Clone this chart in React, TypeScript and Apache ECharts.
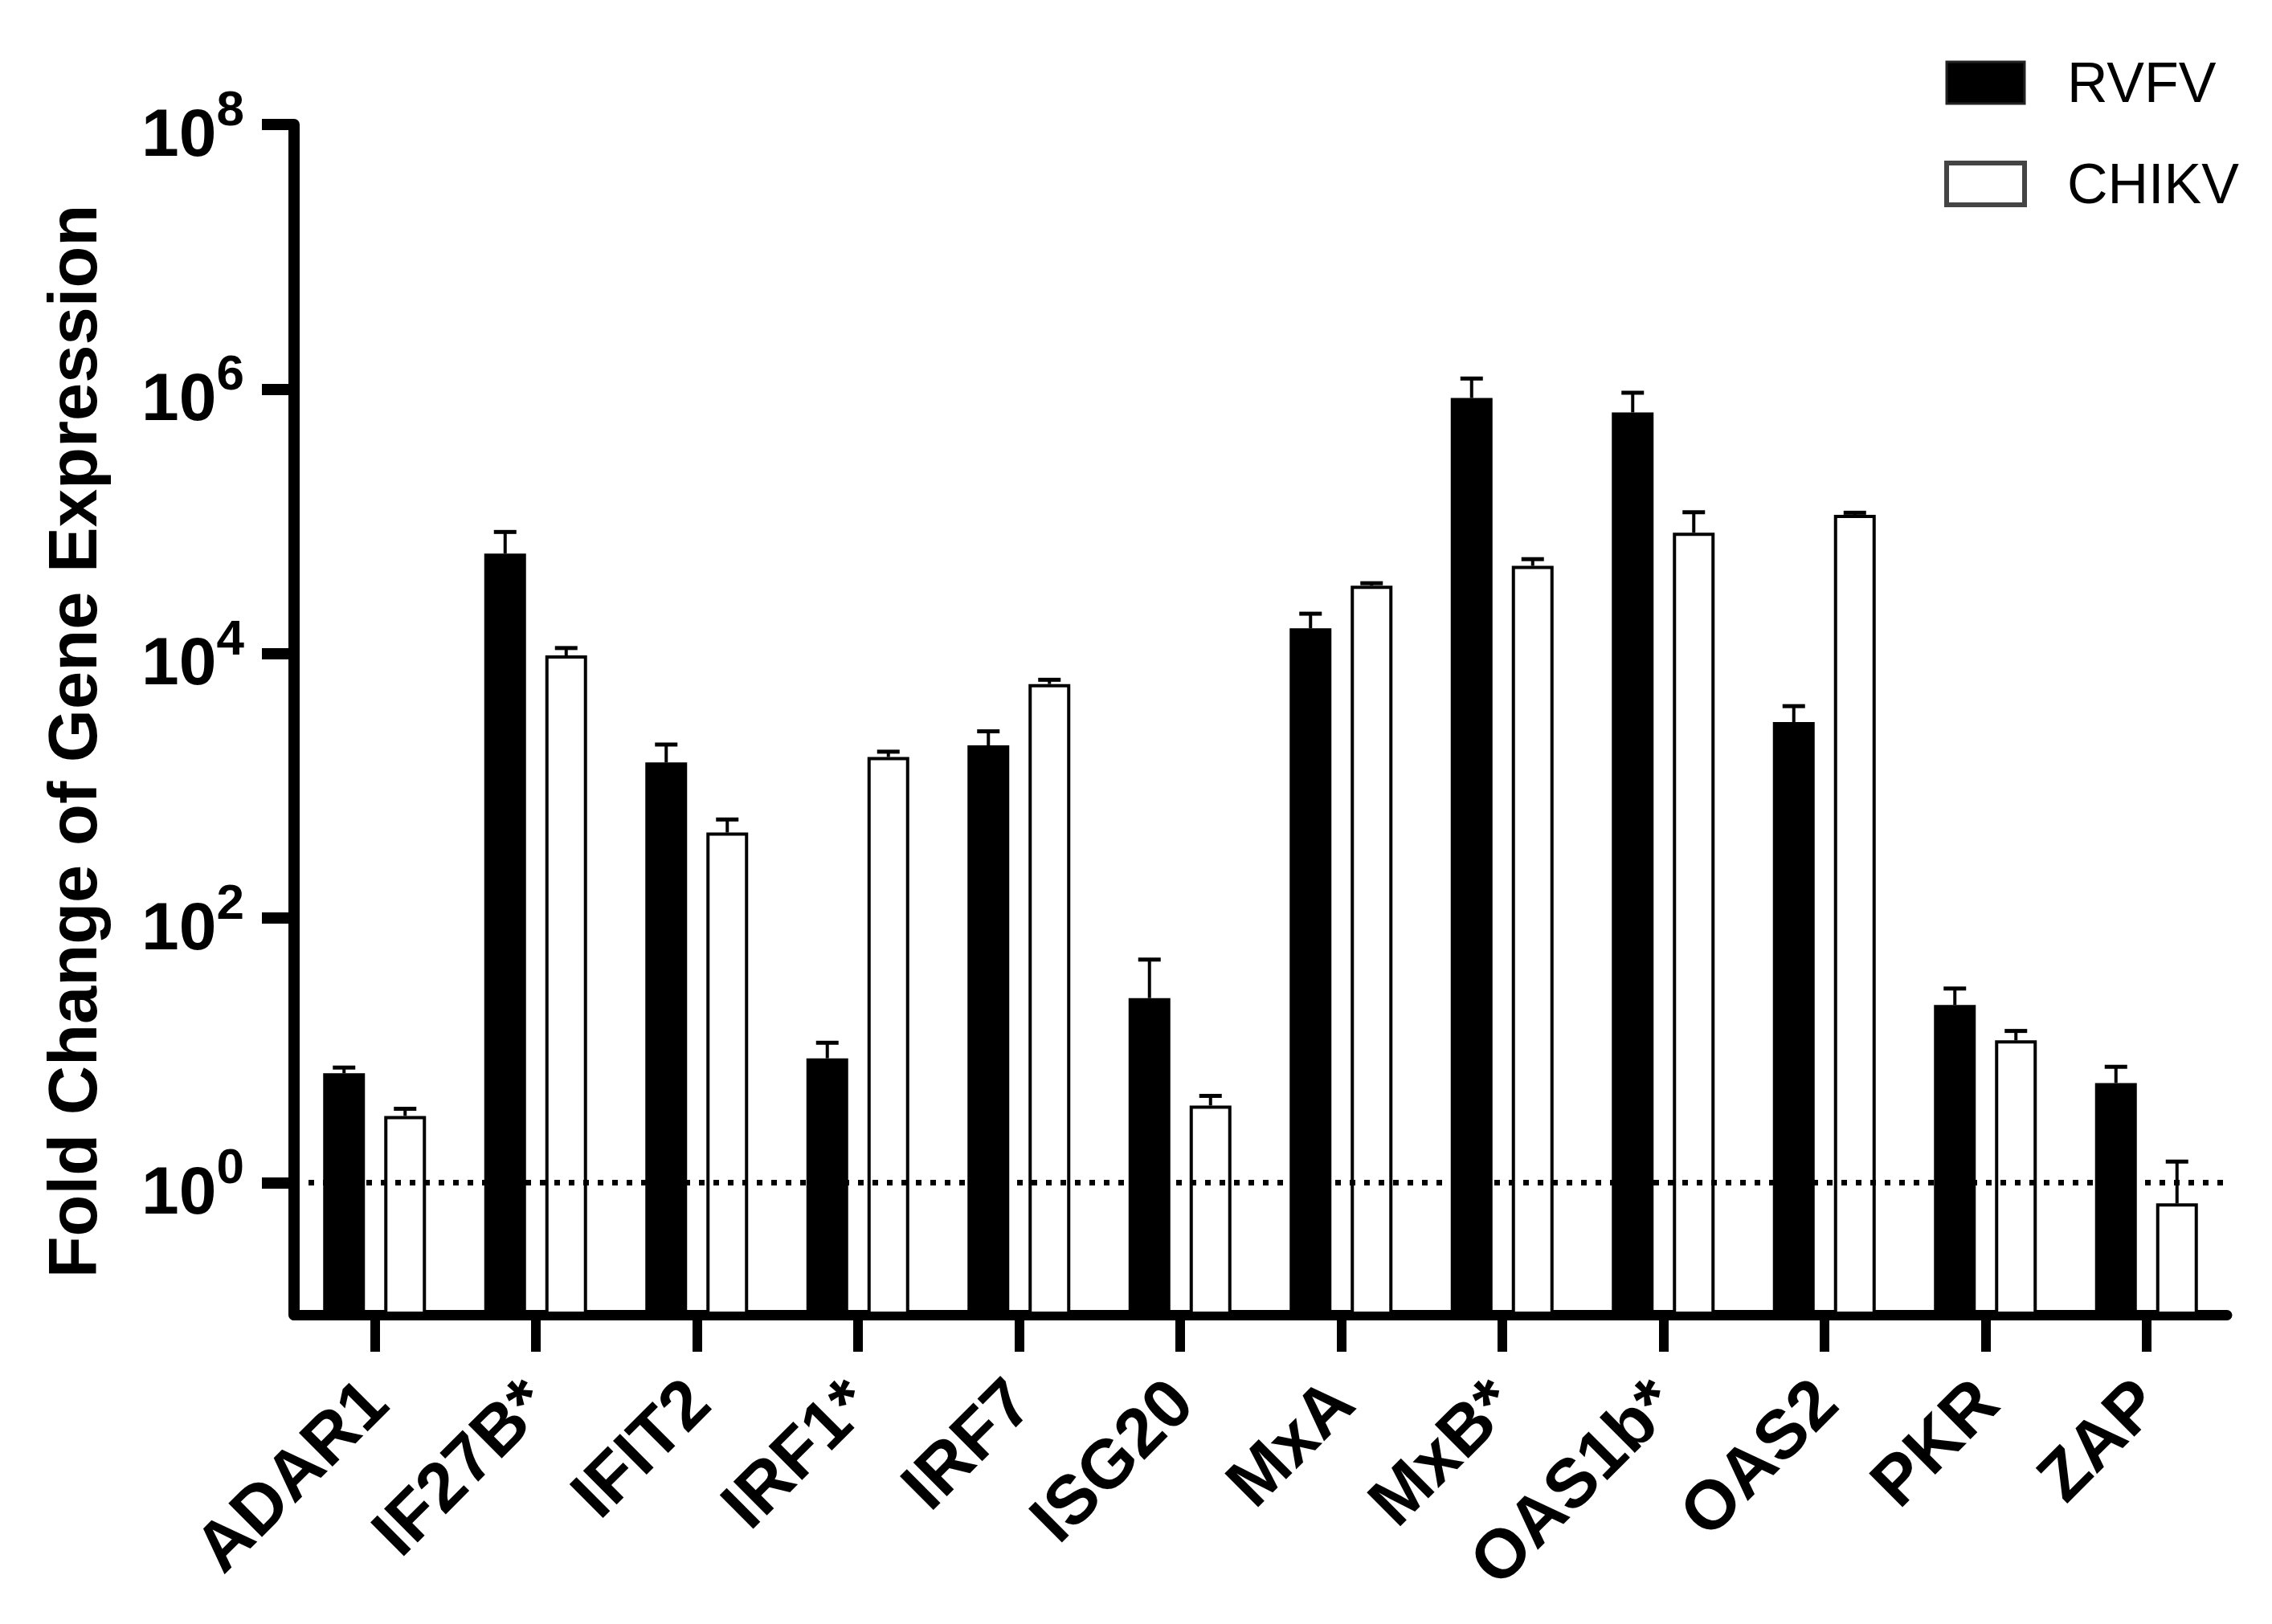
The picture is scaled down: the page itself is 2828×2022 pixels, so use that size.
import React, { useEffect, useRef } from 'react';
import * as echarts from 'echarts';

// ---- Data ----
const categories = ['ADAR1', 'IF27B*', 'IFIT2', 'IRF1*', 'IRF7', 'ISG20', 'MxA', 'MxB*', 'OAS1b*', 'OAS2', 'PKR', 'ZAP'];
const seriesNames = ['RVFV', 'CHIKV'];
const rvfvMean = [6.7, 57000, 1500, 8.7, 2020, 24.8, 15500, 855000, 665000, 3030, 22, 5.65];
const rvfvUpper = [7.4, 83000, 2050, 11.4, 2580, 48.5, 20000, 1200000, 937000, 4000, 29.3, 7.5];
const chikvMean = [3.19, 9670, 443, 1650, 5880, 3.82, 32600, 46000, 82000, 112000, 11.9, 0.695];
const chikvUpper = [3.61, 11000, 556, 1810, 6330, 4.52, 34000, 51700, 117000, 116000, 14, 1.44];
const yTickExponents = [0, 2, 4, 6, 8];
const axisMinExponent = -1;
const axisMaxExponent = 8;
const referenceLineValue = 1;
const yAxisTitle = 'Fold Change of Gene Expression';

// ---- helpers ----
// value axis measured in decades above the axis floor (10^-1)
const toAxis = (v: number) => Math.log10(v) - axisMinExponent;

const FONT = '"Liberation Sans", Arial, Helvetica, sans-serif';
const BAR_W = 52;
const BAR_GAP = 24;

function makeErrorRenderer(sign: number) {
  return (params: any, api: any) => {
    const i = api.value(0);
    const top = api.coord([i, api.value(1)]);
    const base = api.coord([i, api.value(2)]);
    const x = top[0] + sign * (BAR_W + BAR_GAP) / 2;
    return {
      type: 'group',
      children: [
        {
          type: 'line',
          shape: { x1: x, y1: base[1], x2: x, y2: top[1] },
          style: { stroke: '#000', lineWidth: 4 },
        },
        {
          type: 'line',
          shape: { x1: x - 14, y1: top[1], x2: x + 14, y2: top[1] },
          style: { stroke: '#000', lineWidth: 5 },
        },
      ],
    };
  };
}

export default function App() {
  const ref = useRef<HTMLDivElement>(null);

  useEffect(() => {
    if (!ref.current) return;
    const chart = echarts.init(ref.current, null, { renderer: 'svg' });
    const tickPositions = yTickExponents.map((e) => e - axisMinExponent);

    const option: any = {
      animation: false,
      backgroundColor: '#fff',
      grid: {
        left: 366,
        top: 155,
        width: 2406,
        height: 1482,
        outerBoundsMode: 'none',
      },
      legend: {
        orient: 'vertical',
        left: 2420,
        top: 68,
        padding: 0,
        itemWidth: 97,
        itemHeight: 52,
        itemGap: 56,
        icon: 'rect',
        selectedMode: false,
        textStyle: { fontSize: 70, fontFamily: FONT, color: '#000', padding: [0, 0, 0, 48] },
        data: [
          { name: 'RVFV', itemStyle: { color: '#000', borderColor: '#222', borderWidth: 3 } },
          { name: 'CHIKV', itemStyle: { color: '#fff', borderColor: '#444', borderWidth: 6 } },
        ],
      },
      xAxis: {
        type: 'category',
        data: categories,
        axisLine: { show: true, lineStyle: { color: '#000', width: 13 } },
        axisTick: { show: true, alignWithLabel: true, length: 46, lineStyle: { color: '#000', width: 12 } },
        axisLabel: {
          rotate: 45,
          margin: 94,
          interval: 0,
          fontSize: 86,
          fontWeight: 'bold',
          fontFamily: FONT,
          color: '#000',
        },
        splitLine: { show: false },
      },
      yAxis: {
        type: 'value',
        min: 0,
        max: axisMaxExponent - axisMinExponent,
        interval: 1,
        axisLine: { show: true, lineStyle: { color: '#000', width: 14 } },
        axisTick: {
          show: true,
          length: 40,
          customValues: tickPositions,
          lineStyle: { color: '#000', width: 14 },
        },
        axisLabel: {
          customValues: tickPositions,
          margin: 62,
          formatter: (v: number) => `{b|10}{s|${Math.round(v + axisMinExponent)}}`,
          rich: {
            b: {
              fontSize: 84,
              fontWeight: 'bold',
              fontFamily: FONT,
              color: '#000',
              lineHeight: 103,
              verticalAlign: 'bottom',
            },
            s: {
              fontSize: 62,
              fontWeight: 'bold',
              fontFamily: FONT,
              color: '#000',
              lineHeight: 62,
              verticalAlign: 'top',
            },
          },
        },
        splitLine: { show: false },
      },
      graphic: [
        {
          type: 'text',
          x: 90,
          y: 923,
          rotation: Math.PI / 2,
          style: {
            text: yAxisTitle,
            fontSize: 85,
            fontWeight: 'bold',
            fontFamily: FONT,
            fill: '#000',
            align: 'center',
            verticalAlign: 'middle',
          },
        },
      ],
      series: [
        {
          type: 'line',
          name: 'reference',
          data: [],
          z: 1,
          silent: true,
          markLine: {
            silent: true,
            symbol: ['none', 'none'],
            label: { show: false },
            lineStyle: { color: '#000', width: 7, type: [7, 11], cap: 'butt' },
            data: [{ yAxis: toAxis(referenceLineValue) }],
          },
        },
        {
          type: 'bar',
          name: seriesNames[0],
          data: rvfvMean.map(toAxis),
          barWidth: BAR_W,
          barGap: `${(BAR_GAP / BAR_W) * 100}%`,
          z: 2,
          itemStyle: { color: '#000', borderColor: '#000', borderWidth: 2 },
        },
        {
          type: 'bar',
          name: seriesNames[1],
          data: chikvMean.map(toAxis),
          barWidth: BAR_W,
          barGap: `${(BAR_GAP / BAR_W) * 100}%`,
          z: 2,
          itemStyle: { color: '#fff', borderColor: '#000', borderWidth: 4 },
        },
        {
          type: 'custom',
          name: 'RVFV SEM',
          z: 3,
          encode: { x: 0, y: [1, 2] },
          data: rvfvMean.map((m, i) => [i, toAxis(rvfvUpper[i]), toAxis(m)]),
          renderItem: makeErrorRenderer(-1),
        },
        {
          type: 'custom',
          name: 'CHIKV SEM',
          z: 3,
          encode: { x: 0, y: [1, 2] },
          data: chikvMean.map((m, i) => [i, toAxis(chikvUpper[i]), toAxis(m)]),
          renderItem: makeErrorRenderer(1),
        },
      ],
    };

    chart.setOption(option);
    return () => chart.dispose();
  }, []);

  return (
    <div
      ref={ref}
      style={{ position: 'fixed', left: 0, top: 0, width: 2828, height: 2022, background: '#fff' }}
    />
  );
}
